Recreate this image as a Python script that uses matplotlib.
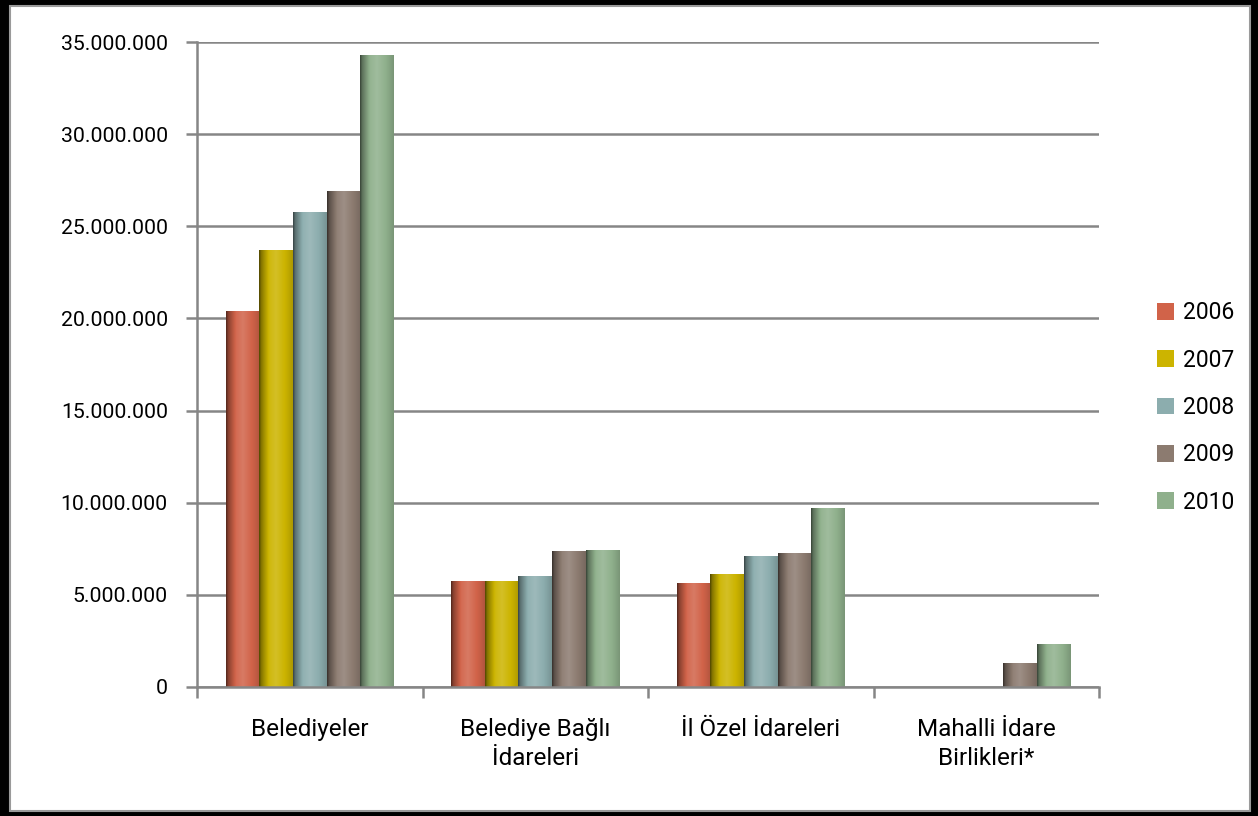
import numpy as np
import matplotlib.pyplot as plt
from matplotlib.patches import Rectangle, Patch
from matplotlib.ticker import FuncFormatter, FixedLocator

plt.rcParams['font.family'] = ['Roboto', 'DejaVu Sans']

categories = ['Belediyeler', 'Belediye Bağlı\nİdareleri', 'İl Özel İdareleri', 'Mahalli İdare\nBirlikleri*']
years = ['2006', '2007', '2008', '2009', '2010']
v2006 = [20400000, 5700000, 5630000, 0]
v2007 = [23670000, 5700000, 6090000, 0]
v2008 = [25760000, 5970000, 7100000, 0]
v2009 = [26880000, 7330000, 7270000, 1290000]
v2010 = [34270000, 7430000, 9710000, 2280000]
series = [v2006, v2007, v2008, v2009, v2010]
colors = ['#D16349', '#CCB400', '#8CADAE', '#8C7B70', '#8FB08C']


def shade(base, n=64):
    # cylinder-like horizontal shading, dark left edge, highlight near the middle
    rgb = np.array(plt.matplotlib.colors.to_rgb(base))
    t = np.linspace(0, 1, n)
    f = np.interp(t, [0, 0.06, 0.3, 0.5, 0.85, 1.0], [0.4, 0.65, 1.05, 1.15, 0.95, 0.85])
    out = np.zeros((1, n, 3))
    for i, k in enumerate(f):
        if k <= 1:
            out[0, i] = rgb * k
        else:
            out[0, i] = rgb + (1 - rgb) * (k - 1)
    return np.clip(out, 0, 1)


fig = plt.figure(figsize=(12.58, 8.16), dpi=100)
fig.patch.set_facecolor('black')
frame = Rectangle((10 / 1258, 1 - 811 / 816), 1240 / 1258, 805 / 816,
                  transform=fig.transFigure, facecolor='white',
                  edgecolor='#9a9a9a', linewidth=1.5, zorder=-5)
fig.patches.append(frame)

ax = fig.add_axes([197 / 1258, 1 - 687 / 816, 902 / 1258, 645 / 816])
ax.set_zorder(2)
ax.patch.set_alpha(0)

x = np.arange(len(categories))
n = len(series)
width = 1 / 6.7
for i, (vals, c) in enumerate(zip(series, colors)):
    pos = x + (i - (n - 1) / 2) * width
    bars = ax.bar(pos, vals, width=width, color=c, linewidth=0, zorder=3)
    img = shade(c)
    for b in bars:
        h = b.get_height()
        if h <= 0:
            continue
        ax.imshow(img, extent=[b.get_x(), b.get_x() + b.get_width(), 0, h],
                  aspect='auto', zorder=4, interpolation='bilinear')

ax.set_xlim(-0.5, len(categories) - 0.5)
ax.set_ylim(0, 35000000)
ax.set_yticks(np.arange(0, 35000001, 5000000))
ax.yaxis.set_major_formatter(FuncFormatter(lambda v, p: f'{int(v):,}'.replace(',', '.')))
ax.yaxis.grid(True, color='#868686', linewidth=1.8, zorder=1)
ax.set_axisbelow(True)

ax.set_xticks(x)
ax.set_xticklabels(categories, linespacing=1.35)
ax.xaxis.set_minor_locator(FixedLocator(np.arange(-0.5, len(categories), 1.0)))
ax.tick_params(axis='x', which='major', length=0, pad=22, labelsize=17.5)
ax.tick_params(axis='x', which='minor', length=8, width=1.8, color='#868686', direction='out')
ax.tick_params(axis='y', length=8, width=1.8, color='#868686', pad=13, labelsize=15.3)

for s in ['top', 'right']:
    ax.spines[s].set_visible(False)
for s in ['left', 'bottom']:
    ax.spines[s].set_color('#868686')
    ax.spines[s].set_linewidth(1.8)
ax.spines['bottom'].set_zorder(5)

handles = [Patch(facecolor=c, edgecolor='none') for c in colors]
leg = fig.legend(handles, years, loc='center left', bbox_to_anchor=(1136 / 1258, 0.5006),
                 frameon=False, fontsize=16.5, labelspacing=1.06, handlelength=0.75,
                 handleheight=0.75, handletextpad=0.4)
leg.set_zorder(3)

fig.savefig('out.png', dpi=100, facecolor=fig.get_facecolor())
